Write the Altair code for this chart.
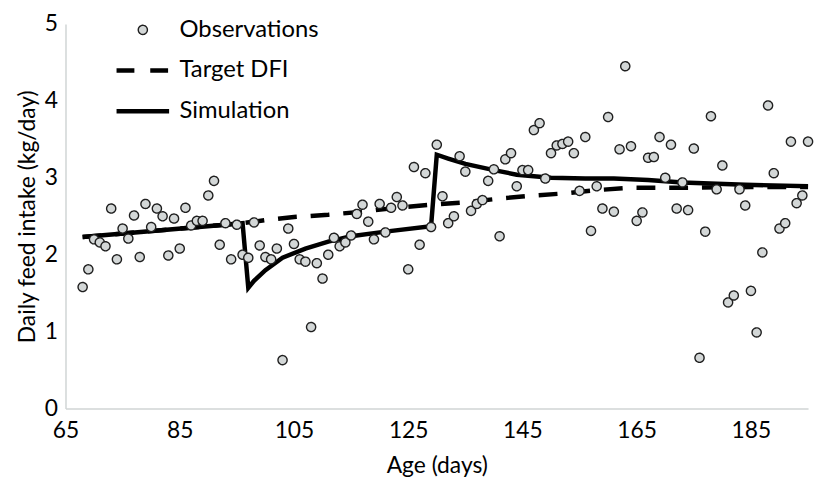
import altair as alt
import pandas as pd

# ---------------- data ----------------
obs_days = [68, 69, 70, 71, 72, 73, 74, 75, 76, 77, 78, 79, 80, 81, 82, 83, 84, 85, 86, 87,
            88, 89, 90, 91, 92, 93, 94, 95, 96, 97, 98, 99, 100, 101, 102, 103, 104, 105, 106, 107,
            108, 109, 110, 111, 112, 113, 114, 115, 116, 117, 118, 119, 120, 121, 122, 123, 124, 125, 126, 127,
            128, 129, 130, 131, 132, 133, 134, 135, 136, 137, 138, 139, 140, 141, 142, 143, 144, 145, 146, 147,
            148, 149, 150, 151, 152, 153, 154, 155, 156, 157, 158, 159, 160, 161, 162, 163, 164, 165, 166, 167,
            168, 169, 170, 171, 172, 173, 174, 175, 176, 177, 178, 179, 180, 181, 182, 183, 184, 185, 186, 187,
            188, 189, 190, 191, 192, 193, 194, 195]
obs_dfi = [1.58, 1.81, 2.20, 2.16, 2.11, 2.60, 1.94, 2.34, 2.21, 2.51, 1.97, 2.66, 2.36, 2.60, 2.50, 1.99, 2.47, 2.08, 2.61, 2.38,
           2.44, 2.44, 2.77, 2.96, 2.13, 2.41, 1.94, 2.39, 2.00, 1.96, 2.42, 2.12, 1.97, 1.94, 2.08, 0.63, 2.34, 2.14, 1.94, 1.91,
           1.06, 1.89, 1.69, 2.00, 2.22, 2.11, 2.16, 2.25, 2.53, 2.65, 2.43, 2.20, 2.66, 2.29, 2.61, 2.75, 2.64, 1.81, 3.14, 2.13,
           3.06, 2.36, 3.43, 2.76, 2.41, 2.50, 3.28, 3.08, 2.57, 2.66, 2.71, 2.96, 3.11, 2.24, 3.24, 3.32, 2.89, 3.10, 3.10, 3.62,
           3.71, 2.99, 3.32, 3.42, 3.44, 3.47, 3.32, 2.83, 3.53, 2.31, 2.89, 2.60, 3.79, 2.56, 3.37, 4.45, 3.41, 2.44, 2.55, 3.26,
           3.27, 3.53, 3.00, 3.43, 2.60, 2.94, 2.58, 3.38, 0.66, 2.30, 3.80, 2.85, 3.16, 1.38, 1.47, 2.85, 2.64, 1.53, 0.99, 2.03,
           3.94, 3.06, 2.34, 2.41, 3.47, 2.67, 2.77, 3.47]

tgt_days = [68, 96, 100, 105, 111, 117, 123, 129, 135, 141, 147, 153, 158, 164, 173, 185, 195]
tgt_dfi = [2.23, 2.41, 2.45, 2.49, 2.52, 2.56, 2.61, 2.65, 2.68, 2.73, 2.77, 2.80, 2.84, 2.87, 2.87, 2.88, 2.88]

sim_days = [68, 96, 97, 98, 100, 103, 107, 111, 115, 121, 129, 130, 132, 135, 140, 144, 150, 156, 161, 167, 173, 184, 195]
sim_dfi = [2.23, 2.41, 1.57, 1.66, 1.80, 1.96, 2.08, 2.17, 2.24, 2.30, 2.37, 3.30, 3.25, 3.18, 3.10, 3.04, 3.00, 2.99, 2.99, 2.97, 2.94, 2.91, 2.89]

series_names = ["Observations", "Target DFI", "Simulation"]
x_ticks = [65, 85, 105, 125, 145, 165, 185]
y_ticks = [0, 1, 2, 3, 4, 5]

# ---------------- frames ----------------
obs_df = pd.DataFrame({"day": obs_days, "dfi": obs_dfi, "series": "Observations"})
tgt_df = pd.DataFrame({"day": tgt_days, "dfi": tgt_dfi, "series": "Target DFI"})
sim_df = pd.DataFrame({"day": sim_days, "dfi": sim_dfi, "series": "Simulation"})

FONT = "Lato"
FS = 23
AXIS_GREY = "#d0d5d5"
POINT_FILL = "#d3d7d7"
LINE_W = 4.5

x_enc = alt.X(
    "day:Q",
    scale=alt.Scale(domain=[65, 195], nice=False, zero=False),
    axis=alt.Axis(values=x_ticks, title="Age (days)", labelPadding=11, titlePadding=12, labelFlush=False),
)
y_enc = alt.Y(
    "dfi:Q",
    scale=alt.Scale(domain=[0, 5], nice=False, zero=True),
    axis=alt.Axis(values=y_ticks, title="Daily feed intake (kg/day)", labelPadding=8, titlePadding=5, labelFlush=False),
)

tgt_line = alt.Chart(tgt_df).mark_line(
    color="black", strokeWidth=LINE_W, strokeDash=[19, 14]
).encode(x=x_enc, y=y_enc)

sim_line = alt.Chart(sim_df).mark_line(
    color="black", strokeWidth=LINE_W
).encode(x=x_enc, y=y_enc)

line_path = "M-2.5,0H2.5"
legend = alt.Legend(
    title=None,
    orient="none",
    legendX=65,
    legendY=-6,
    labelFont=FONT,
    labelFontSize=24,
    labelColor="black",
    labelOffset=24,
    rowPadding=16,
    symbolOpacity=1,
)

points = alt.Chart(obs_df).mark_point(filled=True, opacity=1).encode(
    x=x_enc,
    y=y_enc,
    shape=alt.Shape("series:N", scale=alt.Scale(domain=series_names, range=["circle", line_path, line_path]), legend=legend),
    fill=alt.Fill("series:N", scale=alt.Scale(domain=series_names, range=[POINT_FILL, "black", "black"]), legend=legend),
    stroke=alt.Stroke("series:N", scale=alt.Scale(domain=series_names, range=["#1e1e1e", "black", "black"]), legend=legend),
    strokeWidth=alt.StrokeWidth("series:N", scale=alt.Scale(type="ordinal", domain=series_names, range=[1.4, LINE_W, LINE_W]), legend=legend),
    strokeDash=alt.StrokeDash("series:N", scale=alt.Scale(domain=series_names, range=[[1, 0], [18, 16], [1, 0]]), legend=legend),
    size=alt.Size("series:N", scale=alt.Scale(type="ordinal", domain=series_names, range=[85, 450, 450]), legend=legend),
)

chart = (
    alt.layer(tgt_line, sim_line, points)
    .properties(
        width=749,
        height=388,
        padding={"left": 58, "top": 14, "right": 6, "bottom": 73},
        autosize=alt.AutoSizeParams(type="none"),
    )
    .configure_view(stroke=None)
    .configure_axis(
        domainColor=AXIS_GREY,
        domainWidth=1.5,
        ticks=False,
        grid=False,
        labelFont=FONT,
        labelFontSize=FS,
        labelColor="black",
        titleFont=FONT,
        titleFontSize=FS,
        titleFontWeight="normal",
        titleColor="black",
    )
)

chart.save("out.html", embed_options={"renderer": "svg", "actions": False})
